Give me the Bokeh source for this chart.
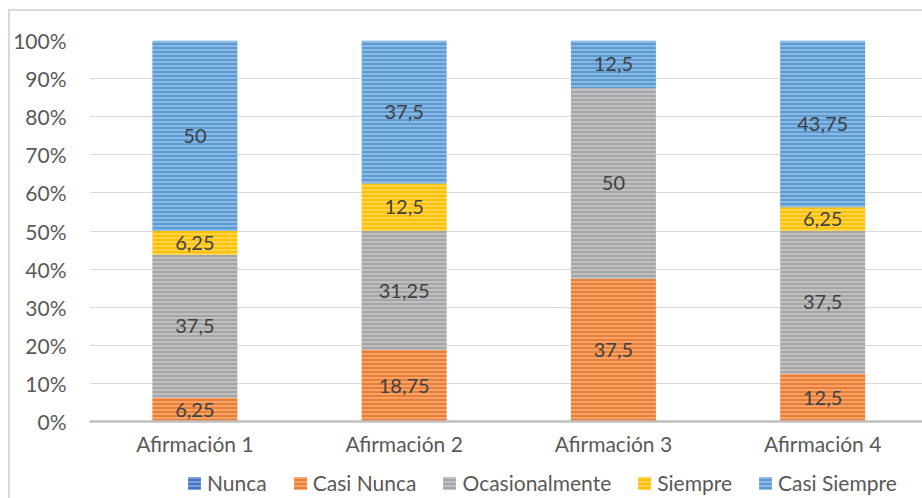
from bokeh.plotting import figure
from bokeh.layouts import column
from bokeh.models import ColumnDataSource, FixedTicker, Legend, LegendItem
from bokeh.core.properties import value
from bokeh.embed import file_html
from bokeh.resources import INLINE

# Survey responses per statement (percent of answers)
categories = ["Afirmación 1", "Afirmación 2", "Afirmación 3", "Afirmación 4"]
series = ["Nunca", "Casi Nunca", "Ocasionalmente", "Siempre", "Casi Siempre"]
nunca = [0, 0, 0, 0]
casi_nunca = [6.25, 18.75, 37.5, 12.5]
ocasionalmente = [37.5, 31.25, 50, 37.5]
siempre = [6.25, 12.5, 0, 6.25]
casi_siempre = [50, 37.5, 12.5, 43.75]
y_ticks = [0, 10, 20, 30, 40, 50, 60, 70, 80, 90, 100]

colors = ["#4472C4", "#ED7D31", "#A5A5A5", "#FFC000", "#5B9BD5"]
FONT = "Lato"
SIZE = "21px"
TEXT = "#595959"
HATCH = dict(hatch_pattern="horizontal_line", hatch_color="white",
             hatch_alpha=0.5, hatch_scale=4, hatch_weight=1.2)

xs = [1, 2, 3, 4]
values = [nunca, casi_nunca, ocasionalmente, siempre, casi_siempre]
keys = ["s0", "s1", "s2", "s3", "s4"]
data = {"x": xs}
for k, v in zip(keys, values):
    data[k] = v
source = ColumnDataSource(data)

p = figure(width=912, height=455, x_range=(0.4964, 4.477), y_range=(0, 100),
           output_backend="svg", toolbar_location=None,
           min_border_left=78, min_border_top=29, min_border_right=0,
           min_border_bottom=45)
p.outline_line_color = None
p.background_fill_color = "white"
p.border_fill_color = "white"

p.vbar_stack(keys, x="x", width=0.406, source=source,
             fill_color=colors, line_color=None, **HATCH)

# Value labels centred in each segment
lx, ly, lt = [], [], []
for i, x in enumerate(xs):
    base = 0
    for v in values:
        val = v[i]
        if val > 0:
            lx.append(x)
            ly.append(base + val / 2)
            lt.append(("%g" % val).replace(".", ","))
        base += val
p.text(x=lx, y=ly, text=lt, text_align="center", text_baseline="middle",
       text_font=value(FONT), text_font_size="20px", text_color="#404040")

# Axes
p.xaxis.ticker = FixedTicker(ticks=xs)
p.xaxis.major_label_overrides = {x: c for x, c in zip(xs, categories)}
p.xaxis.major_tick_line_color = None
p.xaxis.minor_tick_line_color = None
p.xaxis.major_tick_out = 0
p.xaxis.axis_line_color = "#BFBFBF"
p.xaxis.axis_line_width = 2.5
p.xaxis.major_label_standoff = 9
p.xaxis.major_label_text_font = FONT
p.xaxis.major_label_text_font_size = SIZE
p.xaxis.major_label_text_color = TEXT

p.yaxis.ticker = FixedTicker(ticks=y_ticks)
p.yaxis.major_label_overrides = {t: "%d%%" % t for t in y_ticks}
p.yaxis.axis_line_color = None
p.yaxis.major_tick_line_color = None
p.yaxis.minor_tick_line_color = None
p.yaxis.major_tick_out = 0
p.yaxis.major_label_standoff = 23
p.yaxis.major_label_text_font = FONT
p.yaxis.major_label_text_font_size = SIZE
p.yaxis.major_label_text_color = TEXT

p.xgrid.grid_line_color = None
p.ygrid.grid_line_color = "#D9D9D9"
p.ygrid.grid_line_width = 1

# Legend strip underneath the chart
lg = figure(width=912, height=32, x_range=(0, 1), y_range=(0, 1),
            output_backend="svg", toolbar_location=None,
            min_border=0, min_border_left=0, min_border_right=0,
            min_border_top=0, min_border_bottom=0)
lg.axis.visible = False
lg.grid.grid_line_color = None
lg.outline_line_color = None
lg.background_fill_color = "white"
lg.border_fill_color = "white"
items = []
for s, c in zip(series, colors):
    # off-range swatch renderer so the legend has a glyph to draw
    r = lg.vbar(x=[-5], top=[-5], bottom=[-6], width=0.1, fill_color=c,
                line_color=None, **HATCH)
    items.append(LegendItem(label=s, renderers=[r]))
legend = Legend(items=items, orientation="horizontal", location=(97, 3),
                label_text_font=FONT, label_text_font_size=SIZE,
                label_text_color=TEXT, glyph_width=16, glyph_height=16,
                label_standoff=5, spacing=25, padding=0, margin=0,
                border_line_color=None, background_fill_alpha=0)
lg.add_layout(legend, "center")

page = column(p, lg, spacing=0, margin=(9, 0, 0, 8))
page.styles = {"border-left": "2px solid #d9d9d9", "border-top": "2px solid #d9d9d9"}

open("out.html", "w").write(file_html(page, INLINE))
